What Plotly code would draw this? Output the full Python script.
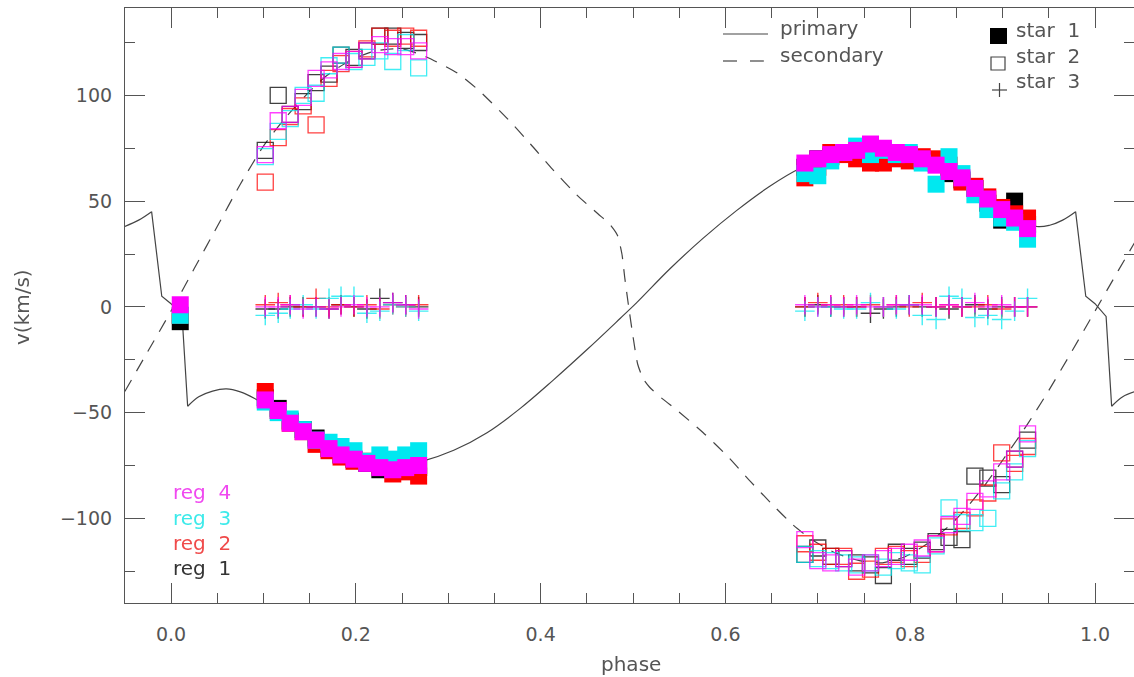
import plotly.graph_objects as go

# ---------------- data ----------------
# primary model curve, split where it jumps (eclipse region)
prim_seg1_phase = [-0.05, -0.035, -0.021]
prim_seg1_v = [38, 41, 45]
prim_jump1_phase = [-0.021, -0.01, 0.0, 0.012, 0.018]
prim_jump1_v = [45, 5, 1.5, -4.5, -47]
prim_main_phase = [0.018, 0.03, 0.045, 0.06, 0.075, 0.09, 0.104, 0.129, 0.154, 0.183, 0.212,
                   0.240, 0.269, 0.306, 0.342, 0.378, 0.414, 0.450, 0.486, 0.504, 0.540,
                   0.576, 0.612, 0.648, 0.681, 0.715, 0.749, 0.785, 0.815, 0.840, 0.876,
                   0.911, 0.937, 0.951, 0.965, 0.979]
prim_main_v = [-47, -42.5, -39.8, -38.8, -40.2, -43.2, -47, -54.8, -61.9, -69, -73.8,
               -75.6, -73.4, -67.8, -59.5, -48, -34.5, -20.3, -5.5, 2, 18,
               32.5, 45.5, 57, 65.5, 71, 73.6, 72.6, 69.5, 65.5, 54.5,
               43, 38, 38.6, 41, 45]
prim_jump2_phase = [0.979, 0.99, 1.0, 1.012, 1.018]
prim_jump2_v = [45, 5, 1.5, -4.5, -47]
prim_seg2_phase = [1.018, 1.03, 1.045]
prim_seg2_v = [-47, -42.5, -39.8]

# secondary model curve
sec_seg1_phase = [-0.05, -0.025, 0.0, 0.025, 0.05, 0.075, 0.1, 0.125, 0.147, 0.169, 0.194,
                  0.219, 0.240, 0.255, 0.277, 0.310, 0.334, 0.364, 0.389, 0.413, 0.439,
                  0.462, 0.475]
sec_seg1_v = [-40, -21, -2, 18, 38, 58, 76, 90, 100.5, 109.5, 116.5,
              120.8, 122, 121.5, 118, 110.5, 102, 89, 77, 65, 53,
              44, 39]
sec_jump_phase = [0.475, 0.483, 0.488, 0.491, 0.495, 0.500, 0.505, 0.511, 0.518]
sec_jump_v = [39, 34, 25, 14, 1, -14, -27, -34, -38]
sec_seg2_phase = [0.518, 0.532, 0.548, 0.576, 0.602, 0.627, 0.652, 0.673, 0.695, 0.720,
                  0.745, 0.770, 0.795, 0.820, 0.846, 0.861, 0.883, 0.900, 0.920, 0.935,
                  0.950, 0.975, 1.0, 1.025, 1.045]
sec_seg2_v = [-38, -43.5, -49, -59.5, -70.5, -82.5, -94, -103, -110.5, -116.5,
              -120, -121, -118, -111.5, -102, -95, -83, -72.5, -60, -50,
              -39.5, -21, -2, 17, 32]

# observation phases
phase_ecl = [0.010]
phase_a = [0.102, 0.116, 0.129, 0.143, 0.157, 0.171, 0.184, 0.198, 0.212, 0.226, 0.240, 0.254, 0.268]
phase_b = [0.686, 0.700, 0.714, 0.728, 0.742, 0.757, 0.771, 0.785, 0.799, 0.813, 0.828, 0.842,
           0.856, 0.870, 0.884, 0.899, 0.913, 0.927]

regions = ["reg 1", "reg 2", "reg 3", "reg 4"]
reg_colors = ["#000000", "#ff0000", "#00e8f0", "#ff00ff"]

# star 1 (filled squares)
s1_ecl = {"reg 1": [-7], "reg 2": [-4], "reg 3": [-4], "reg 4": [1]}
s1_a = {
    "reg 1": [-43, -48, -54, -58, -62, -67, -70, -72, -74, -77, -75, -73, -76],
    "reg 2": [-40, -49, -55, -59, -65, -68, -71, -73, -73, -75, -79, -78, -80],
    "reg 3": [-45, -50, -53, -58, -63, -64, -66, -68, -73, -70, -72, -70, -68],
    "reg 4": [-44, -49, -55, -59, -63, -67, -70, -72, -74, -76, -77, -76, -75],
}
s1_b = {
    "reg 1": [66, 70, 71, 73, 73, 74, 73, 71, 72, 69, 68, 63, 60, 56, 49, 41, 50, 39],
    "reg 2": [61, 66, 73, 72, 70, 68, 68, 70, 69, 71, 70, 67, 59, 57, 52, 47, 44, 42],
    "reg 3": [63, 62, 69, 73, 76, 72, 74, 72, 73, 68, 58, 71, 63, 53, 46, 42, 40, 32],
    "reg 4": [68, 70, 72, 73, 74, 77, 75, 73, 72, 70, 67, 64, 61, 56, 51, 46, 42, 37],
}
# star 2 (open squares)
s2_a = {
    "reg 1": [74, 100, 91, 97, 106, 110, 119, 118, 121, 128, 128, 126, 125],
    "reg 2": [59, 80, 90, 95, 86, 108, 115, 117, 122, 128, 127, 128, 127],
    "reg 3": [71, 83, 89, 100, 101, 114, 119, 116, 118, 121, 116, 125, 113],
    "reg 4": [72, 88, 91, 99, 108, 112, 116, 117, 121, 124, 123, 123, 121],
}
s2_b = {
    "reg 1": [-117, -114, -118, -119, -121, -122, -127, -116, -118, -115, -111, -109, -110, -80, -81, -84, -72, -63],
    "reg 2": [-112, -116, -118, -118, -125, -124, -118, -117, -119, -117, -112, -104, -101, -95, -88, -69, -74, -66],
    "reg 3": [-117, -119, -120, -121, -122, -121, -123, -120, -121, -122, -113, -95, -102, -102, -100, -87, -78, -67],
    "reg 4": [-110, -120, -121, -119, -123, -121, -119, -118, -116, -114, -112, -103, -99, -92, -86, -78, -72, -60],
}
# star 3 (plus signs)
s3_a = {
    "reg 1": [-1, -1, 0, 0, 0, -1, 1, 0, -1, 4, 2, 1, 0],
    "reg 2": [1, 2, 1, 0, 4, 0, 1, 0, 1, -1, 1, 0, 1],
    "reg 3": [-4, -3, -1, 1, -1, 4, 5, 5, -3, -2, 1, 0, -2],
    "reg 4": [0, 0, 1, -1, 0, -1, 0, 1, 0, 0, 2, 1, -1],
}
s3_b = {
    "reg 1": [0, 1, 0, 0, 0, -3, -1, 0, 1, 0, 0, -1, 0, 1, -1, 0, 0, 0],
    "reg 2": [0, 2, 1, 1, 0, 1, 0, 1, 0, 2, 0, 1, 0, 0, 1, -1, 0, 0],
    "reg 3": [-2, 0, 0, -1, -1, 2, 0, -1, 1, -4, -6, 5, 4, -5, -4, -6, -2, 4],
    "reg 4": [1, 0, 1, 0, 1, 0, 0, 1, 1, 1, 0, 1, 0, 2, 0, 1, 0, 0],
}

# ---------------- layout geometry ----------------
W, H = 1134, 677
ML, MR, MT, MB = 125, 0, 8, 74
PW, PH = W - ML - MR, H - MT - MB
X_RANGE = [-0.0498, 1.0422]
Y_RANGE = [-140, 141.3]
AX = "#555555"
TXT = "#555555"
FONT = "DejaVu Sans"
CURVE = "#444444"


def px(x):
    return (x - ML) / PW


def py(y):
    return (H - MB - y) / PH


fig = go.Figure()

solid = dict(color=CURVE, width=1.2)
dashed = dict(color=CURVE, width=1.2, dash="13px,10px")

for xs, ys, shape in [(prim_seg1_phase, prim_seg1_v, "spline"),
                      (prim_jump1_phase, prim_jump1_v, "linear"),
                      (prim_main_phase, prim_main_v, "spline"),
                      (prim_jump2_phase, prim_jump2_v, "linear"),
                      (prim_seg2_phase, prim_seg2_v, "spline")]:
    fig.add_trace(go.Scatter(x=xs, y=ys, mode="lines", line=dict(solid, shape=shape),
                             showlegend=False, hoverinfo="skip"))

# secondary drawn as one path so the dash pattern is continuous
sec_phase = sec_seg1_phase + sec_jump_phase[1:] + sec_seg2_phase[1:]
sec_v = sec_seg1_v + sec_jump_v[1:] + sec_seg2_v[1:]
fig.add_trace(go.Scatter(x=sec_phase, y=sec_v, mode="lines",
                         line=dict(dashed, shape="spline", smoothing=0.6),
                         showlegend=False, hoverinfo="skip"))

for reg, col in zip(regions, reg_colors):
    fig.add_trace(go.Scatter(x=phase_ecl + phase_a + phase_b,
                             y=s1_ecl[reg] + s1_a[reg] + s1_b[reg], mode="markers",
                             marker=dict(symbol="square", size=17, color=col, line=dict(width=0)),
                             showlegend=False))
for reg, col in zip(regions, reg_colors):
    fig.add_trace(go.Scatter(x=phase_a + phase_b, y=s2_a[reg] + s2_b[reg], mode="markers",
                             marker=dict(symbol="square-open", size=16, color=col,
                                         line=dict(width=1.3, color=col)),
                             opacity=0.75, showlegend=False))
for reg, col in zip(regions, reg_colors):
    fig.add_trace(go.Scatter(x=phase_a + phase_b, y=s3_a[reg] + s3_b[reg], mode="markers",
                             marker=dict(symbol="cross-thin-open", size=14, color=col,
                                         line=dict(width=1.4, color=col)),
                             opacity=0.75, showlegend=False))

shapes = []
annotations = []

# legend: line styles
shapes.append(dict(type="line", xref="paper", yref="paper", x0=px(723), x1=px(768), y0=py(34), y1=py(34),
                   line=dict(color=CURVE, width=1.2)))
shapes.append(dict(type="line", xref="paper", yref="paper", x0=px(723), x1=px(737), y0=py(61), y1=py(61),
                   line=dict(color=CURVE, width=1.2)))
shapes.append(dict(type="line", xref="paper", yref="paper", x0=px(750), x1=px(764), y0=py(61), y1=py(61),
                   line=dict(color=CURVE, width=1.2)))
annotations.append(dict(text="primary", xref="paper", yref="paper", x=px(778), y=py(28),
                        xanchor="left", yanchor="middle", showarrow=False,
                        font=dict(family=FONT, size=20, color=TXT)))
annotations.append(dict(text="secondary", xref="paper", yref="paper", x=px(778), y=py(55),
                        xanchor="left", yanchor="middle", showarrow=False,
                        font=dict(family=FONT, size=20, color=TXT)))

# legend: star symbols
shapes.append(dict(type="rect", xref="paper", yref="paper", x0=px(990), x1=px(1007), y0=py(44), y1=py(28),
                   fillcolor="#000000", line=dict(width=0)))
shapes.append(dict(type="rect", xref="paper", yref="paper", x0=px(991), x1=px(1005), y0=py(70), y1=py(57),
                   fillcolor="rgba(0,0,0,0)", line=dict(color=CURVE, width=1.2)))
shapes.append(dict(type="line", xref="paper", yref="paper", x0=px(992), x1=px(1007), y0=py(90), y1=py(90),
                   line=dict(color=CURVE, width=1.2)))
shapes.append(dict(type="line", xref="paper", yref="paper", x0=px(999.5), x1=px(999.5), y0=py(83), y1=py(97),
                   line=dict(color=CURVE, width=1.2)))
for lab, yy in [("star  1", 30), ("star  2", 56), ("star  3", 81)]:
    annotations.append(dict(text=lab, xref="paper", yref="paper", x=px(1014), y=py(yy),
                            xanchor="left", yanchor="middle", showarrow=False,
                            font=dict(family=FONT, size=20, color=TXT)))

# region labels
reg_label_colors = ["#333333", "#f04a4a", "#3ceaea", "#f048f0"]
for reg, col, yy in zip(regions, reg_label_colors, [568, 543, 518, 492]):
    annotations.append(dict(text=reg.replace(" ", "  "), xref="paper", yref="paper", x=px(171), y=py(yy),
                            xanchor="left", yanchor="middle", showarrow=False,
                            font=dict(family=FONT, size=20, color=col)))

# axis titles
annotations.append(dict(text="v(km/s)", xref="paper", yref="paper", x=px(22), y=py(307),
                        xanchor="center", yanchor="middle", textangle=-90, showarrow=False,
                        font=dict(family=FONT, size=20, color=TXT)))
annotations.append(dict(text="phase", xref="paper", yref="paper", x=px(631), y=py(664),
                        xanchor="center", yanchor="middle", showarrow=False,
                        font=dict(family=FONT, size=20, color=TXT)))

axis_common = dict(showline=True, linecolor=AX, linewidth=1.2, mirror="allticks",
                   ticks="inside", ticklen=20, tickwidth=1, tickcolor=AX,
                   showgrid=False, zeroline=False,
                   tickfont=dict(family=FONT, size=19, color=TXT))

fig.update_layout(
    width=W, height=H,
    margin=dict(l=ML, r=MR, t=MT, b=MB, pad=0),
    paper_bgcolor="white", plot_bgcolor="white",
    showlegend=False,
    xaxis=dict(range=X_RANGE, tick0=0, dtick=0.2, tickformat=".1f",
               minor=dict(ticks="inside", ticklen=10, dtick=0.05, tick0=0, tickcolor=AX, showgrid=False),
               ticklabelstandoff=14, **axis_common),
    yaxis=dict(range=Y_RANGE, tick0=0, dtick=50,
               minor=dict(ticks="inside", ticklen=10, dtick=25, tick0=0, tickcolor=AX, showgrid=False),
               ticklabelstandoff=8, **axis_common),
    shapes=shapes,
    annotations=annotations,
)

fig.write_html("out.html")
